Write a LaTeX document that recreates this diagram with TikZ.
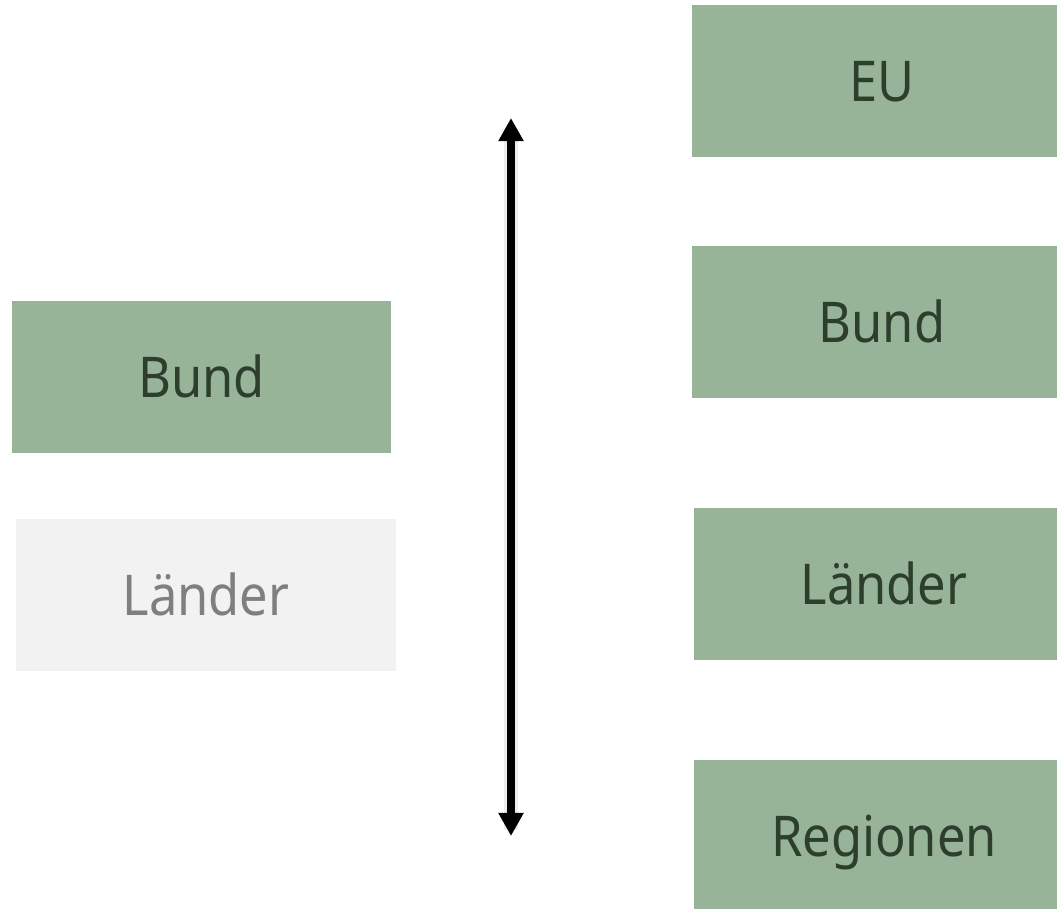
\documentclass[tikz,border=0pt]{standalone}
\usepackage{fontspec}
\setmainfont{Noto Sans}[FakeStretch=0.9]
\usepackage{tikz}
\usetikzlibrary{arrows.meta}

\definecolor{sage}{HTML}{97B498}
\definecolor{sagetext}{HTML}{2D3E2D}
\definecolor{fadebox}{HTML}{F2F2F2}
\definecolor{fadetext}{HTML}{7F7F7F}

\begin{document}
\begin{tikzpicture}[x=0.025cm,y=-0.025cm,
	level/.style={fill=sage, text=sagetext, minimum width=379*0.7113pt, minimum height=152*0.7113pt, inner sep=0pt, font=\fontsize{40}{40}\selectfont, text height=28.6pt, text depth=0pt},
	faded/.style={level, fill=fadebox, text=fadetext},
	updown/.style={line width=5.7pt, {Triangle[width=17pt,length=16.5pt]}-{Triangle[width=17pt,length=16.5pt]}},
	updownshade/.style={line width=10pt, draw=black, opacity=0.07, shorten <=6pt, shorten >=6pt}]

	\clip (0,0) rectangle (1057,908);

	% left column
	\node[level] (bundL) at (201.5,377) {Bund};
	\node[faded] (laenderL) at (206,595) {Länder};

	% right column
	\node[level] (eu) at (882,81) {EU};
	\node[level] (bundR) at (882,322) {Bund};
	\node[level] (laenderR) at (884,584) {Länder};
	\node[level] (regionen) at (884,836.5) {Regionen};

	% arrow
	\coordinate (top) at (511,118);
	\coordinate (bottom) at (511,836);
	\draw[updownshade] ([yshift=-2pt]top) -- ([yshift=-2pt]bottom);
	\draw[updown] (top) -- (bottom);

\end{tikzpicture}
\end{document}
